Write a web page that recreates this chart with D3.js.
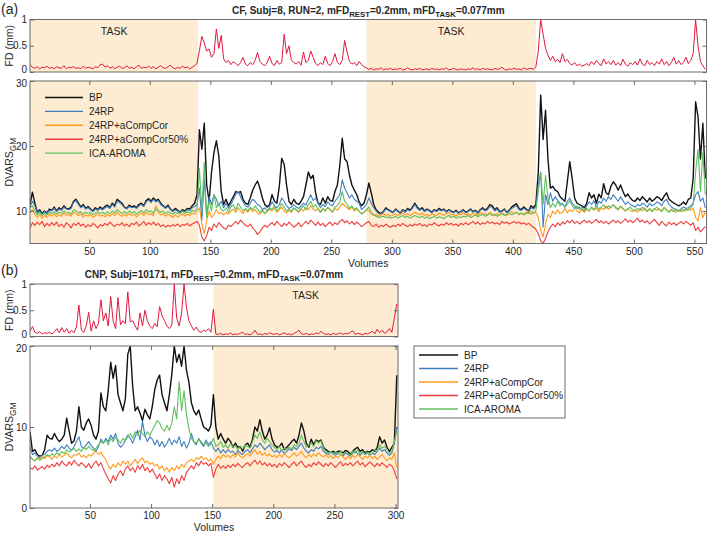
<!DOCTYPE html>
<html><head><meta charset="utf-8">
<script src="https://cdn.jsdelivr.net/npm/d3@7"></script>
<style>body{margin:0;background:#fff}</style>
</head><body><svg id="c" width="709" height="534"></svg>
<script>
// ---------------- DATA ----------------
const volsA = d3.range(1, 560, 2);   // sampled volumes, panel (a)
const volsB = d3.range(1, 302, 2);   // sampled volumes, panel (b)
const xTicksA = [50,100,150,200,250,300,350,400,450,500,550];
const xTicksB = [50,100,150,200,250,300];
const fdTicks = [0, 0.5, 1];
const dvTicksA = [10, 20, 30];
const dvTicksB = [0, 10, 20];
const tasksA = [[1,140],[279,419]];
const tasksB = [[151,302]];
const seriesNames = ["BP","24RP","24RP+aCompCor","24RP+aCompCor50%","ICA-AROMA"];
const titleA = [["CF, Subj=8, RUN=2, mFD",0],["REST",1],["=0.2mm, mFD",0],["TASK",1],["=0.077mm",0]];
const titleB = [["CNP, Subj=10171, mFD",0],["REST",1],["=0.2mm, mFD",0],["TASK",1],["=0.07mm",0]];

const fdA = [
0.14,0.09,0.07,0.10,0.06,0.09,0.08,0.11,0.07,0.09,
0.06,0.10,0.08,0.07,0.12,0.06,0.09,0.08,0.10,0.07,
0.08,0.06,0.11,0.07,0.09,0.08,0.06,0.10,0.08,0.14,
0.15,0.09,0.12,0.07,0.10,0.06,0.09,0.11,0.07,0.08,
0.12,0.07,0.09,0.06,0.10,0.13,0.07,0.09,0.08,0.11,
0.07,0.10,0.06,0.09,0.12,0.08,0.07,0.10,0.13,0.08,
0.06,0.09,0.07,0.11,0.08,0.10,0.06,0.09,0.12,0.16,
0.41,0.68,0.55,0.40,0.44,0.28,0.35,0.82,0.45,0.70,
0.25,0.18,0.22,0.14,0.20,0.16,0.12,0.18,0.28,0.15,
0.12,0.18,0.14,0.22,0.37,0.20,0.15,0.12,0.18,0.30,
0.16,0.12,0.22,0.15,0.18,0.72,0.35,0.50,0.22,0.18,
0.15,0.20,0.13,0.38,0.18,0.22,0.40,0.28,0.16,0.12,
0.18,0.14,0.30,0.16,0.12,0.20,0.35,0.18,0.14,0.22,
0.60,0.38,0.20,0.15,0.18,0.12,0.20,0.14,0.10,0.08,
0.05,0.07,0.04,0.06,0.05,0.08,0.04,0.06,0.05,0.07,
0.04,0.06,0.05,0.07,0.04,0.05,0.08,0.05,0.04,0.06,
0.05,0.07,0.04,0.05,0.06,0.04,0.07,0.05,0.06,0.04,
0.06,0.05,0.08,0.04,0.05,0.07,0.05,0.04,0.06,0.05,
0.04,0.06,0.05,0.08,0.05,0.06,0.04,0.07,0.05,0.06,
0.05,0.04,0.07,0.05,0.06,0.09,0.05,0.04,0.06,0.05,
0.07,0.05,0.06,0.04,0.08,0.05,0.06,0.07,0.05,0.10,
0.40,1.00,0.72,0.45,0.32,0.22,0.30,0.20,0.24,0.18,
0.35,0.20,0.24,0.16,0.13,0.18,0.12,0.15,0.11,0.13,
0.16,0.12,0.20,0.14,0.22,0.16,0.12,0.25,0.15,0.20,
0.14,0.22,0.13,0.18,0.12,0.24,0.15,0.11,0.18,0.14,
0.20,0.13,0.25,0.15,0.12,0.22,0.14,0.18,0.12,0.20,
0.15,0.25,0.14,0.20,0.12,0.18,0.28,0.15,0.22,0.14,
0.18,0.28,0.16,0.22,0.35,1.00,0.50,0.20,0.12,0.05];

const bpA = [
11.0,12.9,11.2,9.8,10.2,9.6,10.0,9.7,10.3,10.1,
10.6,10.0,10.5,10.2,10.8,10.4,10.3,10.6,11.5,11.8,
11.2,10.6,11.0,10.4,10.7,10.3,10.0,10.5,10.2,10.6,
10.3,10.7,10.9,10.5,11.2,10.8,11.8,11.5,11.2,10.6,
10.4,10.9,10.6,10.8,10.5,11.0,11.2,10.8,11.6,11.9,
11.5,12.0,11.6,11.8,11.2,10.8,10.5,10.9,10.3,10.0,
10.4,10.1,9.8,10.2,10.0,10.4,10.3,10.8,11.2,12.5,
22.5,19.5,23.5,14.0,11.5,16.0,19.0,20.8,18.5,13.0,
11.0,11.8,10.8,11.5,12.2,13.0,12.8,13.0,11.8,11.2,
11.0,12.0,13.2,14.0,14.6,13.5,12.0,11.0,10.6,11.0,
12.5,11.5,11.2,13.8,18.1,17.2,14.0,11.5,11.0,11.8,
11.2,11.0,11.5,12.2,14.0,16.0,15.0,15.5,12.8,11.2,
11.0,12.0,11.2,12.2,11.6,11.5,13.0,14.0,17.0,21.2,
18.0,17.6,15.5,14.0,13.2,12.5,11.4,10.8,11.2,12.5,
14.3,12.8,11.0,10.2,9.8,9.6,9.9,10.5,10.2,10.0,
9.8,10.3,10.0,9.7,10.2,9.9,10.4,10.1,10.6,11.2,
10.6,10.2,10.5,10.0,10.3,10.1,9.8,10.2,10.0,10.4,
10.1,10.3,9.9,10.2,10.0,9.8,10.1,9.7,9.9,10.2,
9.8,10.0,10.3,9.9,10.1,9.7,10.2,10.5,10.1,10.4,
11.0,10.8,10.2,10.5,9.9,10.0,10.3,9.8,10.1,10.6,
10.9,11.1,10.4,10.2,10.6,10.3,10.0,10.8,10.5,11.0,
16.0,27.8,21.0,25.5,18.0,13.5,13.8,13.2,13.0,12.2,
11.8,11.5,14.5,17.6,15.0,12.0,11.2,11.0,10.8,10.5,
11.2,12.8,12.0,12.5,11.2,12.6,12.0,14.2,12.8,12.5,
13.8,14.5,14.0,13.2,14.0,13.0,12.2,12.6,12.0,11.6,
11.5,12.0,11.6,12.2,11.8,11.4,12.0,11.5,11.8,12.2,
12.0,11.6,12.3,12.8,11.8,11.5,11.2,11.0,10.8,11.0,
11.4,11.0,11.8,12.0,15.0,26.8,24.5,18.0,23.5,15.0];

const rpA = [
10.6,11.5,10.8,9.7,10.0,9.5,9.9,9.6,10.1,10.0,
10.4,9.9,10.3,10.1,10.6,10.3,10.2,10.4,11.3,11.6,
11.0,10.5,10.8,10.3,10.5,10.2,9.9,10.3,10.1,10.4,
10.2,10.5,10.7,10.4,11.0,10.6,11.5,11.3,11.0,10.5,
10.3,10.7,10.5,10.6,10.4,10.8,11.0,10.7,11.4,11.7,
11.3,11.8,11.4,11.6,11.0,10.7,10.4,10.7,10.2,9.9,
10.2,10.0,9.7,10.0,9.9,10.2,10.1,10.5,10.7,11.0,
13.5,8.5,15.0,9.0,12.2,11.0,12.5,11.8,10.8,11.5,
10.5,11.2,10.4,11.0,11.8,12.5,13.0,12.2,11.4,10.8,
10.6,11.2,11.8,11.5,11.0,10.8,10.2,10.5,10.0,10.6,
11.4,10.8,10.5,11.0,12.0,11.5,10.8,10.4,10.6,11.0,
10.6,10.4,10.8,11.2,10.9,11.8,12.5,11.6,12.0,11.2,
10.5,11.0,10.7,11.4,11.0,10.8,11.5,12.0,12.5,14.8,
13.5,12.8,12.0,12.5,11.8,11.5,11.2,10.2,10.6,11.0,
12.0,11.2,10.5,10.0,9.6,9.5,9.8,10.3,10.1,9.9,
9.7,10.2,9.9,9.6,10.1,9.8,10.2,10.0,10.4,11.0,
10.4,10.1,10.3,9.9,10.2,10.0,9.7,10.1,9.9,10.2,
10.0,10.2,9.8,10.1,9.9,9.7,10.0,9.6,9.8,10.1,
9.7,9.9,10.2,9.8,10.0,9.6,10.1,10.3,10.0,10.2,
10.7,10.5,10.0,10.3,9.8,9.9,10.2,9.7,10.0,10.4,
10.6,10.8,10.2,10.1,10.4,10.2,9.9,10.5,10.3,10.6,
14.0,16.0,7.5,12.5,11.0,12.8,11.5,12.2,11.6,11.2,
11.0,10.6,11.5,12.0,11.2,10.8,10.4,10.6,10.2,10.0,
10.8,11.4,11.0,11.6,10.6,11.5,11.2,12.0,11.5,12.2,
11.8,12.5,12.0,11.5,12.2,11.6,11.0,11.4,11.0,10.8,
10.6,11.0,10.8,11.2,11.0,10.6,11.2,10.8,11.0,11.4,
11.2,10.8,11.5,11.8,11.0,10.6,10.4,10.2,10.0,10.3,
10.6,10.4,10.5,10.8,11.2,12.5,13.0,11.5,12.0,10.5];

const ccA = [
9.8,10.2,9.5,9.0,9.4,8.9,9.3,9.0,9.5,9.2,
9.6,9.1,9.4,9.2,9.7,9.3,9.5,9.2,9.8,9.6,
9.3,9.6,9.1,9.4,9.2,9.5,9.0,9.3,9.6,9.2,
9.4,9.1,9.5,9.2,9.6,9.3,9.8,9.4,9.2,9.5,
9.2,9.6,9.3,9.5,9.1,9.4,9.7,9.3,9.8,9.5,
9.6,9.3,10.8,9.8,9.4,9.6,9.2,9.5,9.3,9.0,
9.4,9.1,9.3,9.6,9.2,9.5,9.3,9.7,9.5,9.9,
10.5,8.0,6.5,8.5,10.0,9.0,9.5,10.2,9.6,9.8,
9.4,9.8,9.5,10.0,10.3,9.8,10.5,10.0,9.6,10.2,
9.8,10.4,9.9,10.2,9.7,9.5,10.0,9.6,9.9,10.3,
10.0,10.5,9.8,10.2,10.6,10.0,9.7,10.1,9.8,10.4,
10.1,9.8,10.3,10.0,10.5,10.2,10.8,10.3,10.0,10.4,
9.9,10.3,10.0,10.5,10.2,9.8,10.4,10.1,10.6,11.2,
10.8,10.5,10.2,10.6,10.0,10.3,9.9,9.6,9.8,10.2,
10.0,9.6,9.3,9.5,9.2,9.4,9.6,9.3,9.5,9.2,
9.4,9.6,9.3,9.5,9.7,9.4,9.6,9.3,9.5,9.8,
9.6,9.4,9.7,9.3,9.5,9.2,9.6,9.4,9.3,9.7,
9.5,9.3,9.6,9.8,9.4,9.5,9.2,9.6,9.4,9.7,
9.4,9.6,9.3,9.7,9.5,9.3,9.8,9.5,9.6,9.4,
9.8,9.5,9.3,9.6,9.4,9.7,9.5,9.3,9.6,9.9,
9.6,9.8,9.4,9.7,9.5,9.8,9.6,10.0,9.7,9.8,
9.0,7.0,6.0,8.0,9.5,9.0,10.0,9.5,10.2,9.6,
9.8,10.4,9.7,10.2,9.9,10.5,10.0,9.7,10.2,9.8,
10.3,10.0,10.6,10.1,10.4,9.9,10.5,10.2,10.8,10.3,
10.6,11.0,10.4,10.2,10.7,10.3,10.0,10.4,10.1,9.9,
10.2,9.8,10.4,10.0,10.5,9.9,10.3,10.0,10.4,10.1,
10.3,10.0,10.6,10.2,9.9,10.3,10.0,9.8,10.1,9.9,
10.2,10.0,10.4,10.1,10.5,9.0,8.5,10.5,9.0,9.8];

const cc50A = [
7.4,8.2,7.8,8.3,7.9,8.4,7.6,8.1,7.7,8.2,
7.8,8.3,7.6,8.0,7.5,8.2,7.9,7.4,8.1,7.8,
8.2,7.7,8.0,7.5,7.9,7.6,8.1,7.8,7.4,7.9,
7.7,8.1,7.8,8.3,7.9,7.6,8.0,7.8,8.2,7.7,
8.0,7.6,8.1,7.9,8.3,7.7,8.0,8.4,7.8,8.2,
7.9,8.3,7.8,8.1,7.6,7.9,7.5,7.8,7.6,7.9,
7.7,8.0,7.6,7.9,7.8,8.1,7.7,8.0,8.2,8.4,
7.8,6.0,5.4,6.2,7.5,7.0,8.0,7.5,8.2,7.8,
7.4,7.2,7.8,7.6,8.0,8.4,8.0,8.6,8.2,7.8,
7.6,8.0,7.4,7.0,6.4,6.8,7.4,7.8,7.5,7.9,
8.2,7.8,8.4,8.0,7.6,8.1,7.8,8.3,7.9,7.5,
7.8,8.2,7.6,8.0,8.4,8.0,8.6,8.2,7.8,8.3,
7.8,8.1,7.6,8.0,8.3,7.8,8.2,7.9,8.4,8.7,
8.2,8.5,8.0,8.4,7.9,8.3,8.0,7.6,7.9,8.2,
8.4,7.8,7.6,8.0,7.5,7.8,7.6,8.0,7.7,7.5,
7.8,7.6,8.0,7.7,8.1,7.8,7.6,7.9,7.7,8.0,
7.8,8.1,7.7,7.9,7.6,8.0,7.8,8.2,7.9,7.7,
8.0,7.8,8.2,7.9,8.1,7.8,8.0,7.7,8.1,7.9,
8.2,7.9,8.1,8.4,8.0,8.3,7.9,8.2,8.0,8.4,
8.1,8.3,8.0,8.2,7.9,8.4,8.1,8.3,8.0,8.2,
8.4,8.1,8.3,8.0,8.2,7.9,8.1,7.8,7.5,7.2,
6.5,5.4,5.0,5.8,6.8,7.5,8.0,7.6,8.2,7.8,
8.3,8.0,8.5,8.2,8.6,8.1,8.4,8.0,8.3,8.6,
8.2,8.5,8.1,8.4,8.7,8.2,8.5,8.1,8.4,8.0,
8.3,8.6,8.2,8.5,8.1,8.4,8.8,8.3,8.6,8.2,
8.5,8.9,8.3,8.6,8.2,8.5,8.0,8.4,8.7,8.2,
7.8,8.4,8.0,7.7,8.3,7.9,8.2,7.8,8.1,8.4,
8.0,8.4,8.1,7.8,8.2,7.0,7.5,6.8,7.2,7.6];

const icaA = [
10.5,10.8,10.0,9.4,9.8,9.3,9.6,9.4,9.8,9.6,
9.9,9.5,9.8,9.6,10.0,9.7,9.8,9.5,10.2,10.0,
9.7,9.9,9.5,9.8,9.6,9.8,9.4,9.7,9.9,9.6,
9.8,9.5,9.9,9.6,10.0,9.7,10.2,9.9,9.6,9.9,
9.6,10.0,9.7,9.9,9.5,9.8,10.1,9.7,10.2,9.9,
10.0,9.7,10.3,10.1,9.8,10.0,9.6,9.9,9.7,9.5,
9.8,9.6,9.7,10.0,9.6,9.9,9.7,10.1,9.9,10.4,
16.5,10.0,17.5,9.0,11.5,10.0,12.5,10.5,11.2,10.2,
10.0,10.5,9.8,10.6,11.0,10.2,11.2,10.6,10.0,10.4,
10.0,10.6,10.2,10.8,10.3,9.8,10.2,9.6,10.0,10.5,
10.2,10.8,10.0,10.4,11.2,10.6,10.0,10.3,9.9,10.5,
10.2,9.9,10.4,10.8,10.2,11.0,11.5,10.6,11.0,10.3,
9.8,10.4,10.0,10.6,10.2,9.9,10.6,10.8,11.4,13.0,
11.5,11.0,10.4,10.8,10.2,10.5,10.0,9.5,9.8,10.2,
10.6,9.8,9.4,9.2,9.0,9.1,9.2,9.0,9.1,8.9,
9.0,9.2,8.9,9.1,9.3,9.0,9.2,8.9,9.1,9.3,
9.1,9.0,9.2,8.9,9.1,8.8,9.0,9.2,8.9,9.1,
9.0,8.8,9.1,9.3,9.0,9.2,8.9,9.1,9.0,9.2,
9.1,9.3,9.0,9.2,9.4,9.1,9.3,9.5,9.2,9.4,
9.6,9.3,9.5,9.2,9.4,9.6,9.3,9.5,9.7,9.4,
9.6,9.8,9.5,9.7,9.4,9.6,9.8,9.5,9.7,10.0,
13.0,15.8,11.0,15.5,12.0,10.5,11.2,10.6,11.5,10.8,
11.2,10.6,11.0,11.6,10.8,10.4,10.8,10.2,10.6,10.0,
10.4,10.0,10.6,10.2,10.8,10.3,10.6,11.0,10.4,10.8,
10.5,11.0,10.6,10.2,10.8,10.4,10.0,10.3,10.6,10.2,
10.0,10.4,10.1,10.6,10.2,10.0,10.4,9.9,10.3,10.6,
10.2,9.9,10.5,10.1,9.8,10.2,9.9,10.3,10.0,10.2,
10.0,10.3,10.1,10.5,11.0,16.0,19.5,13.0,19.0,12.5];

const fdB = [
0.10,0.19,0.08,0.06,0.09,0.05,0.07,0.06,0.08,0.05,
0.09,0.15,0.07,0.17,0.08,0.15,0.06,0.12,0.07,0.18,
0.60,0.12,0.08,0.20,0.46,0.10,0.30,0.15,0.25,0.70,
0.30,0.45,0.20,0.76,0.30,0.15,0.74,0.22,0.30,0.25,
0.85,0.28,0.30,0.20,0.12,0.45,0.20,0.50,0.30,0.20,
0.15,0.25,0.18,0.57,0.40,0.30,0.20,0.15,0.22,1.00,
0.35,0.20,0.45,1.00,0.55,0.30,0.20,0.12,0.18,0.10,
0.08,0.12,0.10,0.15,0.08,0.52,0.05,0.04,0.06,0.03,
0.05,0.04,0.07,0.03,0.05,0.04,0.06,0.08,0.04,0.05,
0.03,0.06,0.12,0.04,0.05,0.03,0.06,0.04,0.07,0.05,
0.04,0.06,0.03,0.05,0.07,0.04,0.05,0.03,0.06,0.08,
0.12,0.05,0.04,0.06,0.03,0.05,0.04,0.07,0.05,0.10,
0.06,0.04,0.05,0.03,0.06,0.04,0.05,0.07,0.04,0.06,
0.05,0.08,0.11,0.04,0.06,0.05,0.03,0.06,0.05,0.07,
0.10,0.05,0.14,0.07,0.12,0.06,0.09,0.15,0.08,0.35,
0.62];

const bpB = [
9.4,7.0,7.2,6.6,6.4,6.5,7.2,9.0,8.6,8.5,
9.2,8.6,8.2,8.5,9.0,11.1,9.5,8.0,8.3,9.5,
12.5,10.0,9.6,10.5,11.0,10.2,9.0,8.5,9.5,14.2,
12.5,12.0,14.5,18.0,16.0,17.6,14.0,13.0,12.0,13.5,
19.0,20.0,15.0,12.0,12.5,11.7,10.8,12.2,11.5,11.0,
12.5,14.6,15.8,16.4,14.0,13.0,12.0,14.0,16.5,20.0,
18.0,19.0,17.5,20.0,17.0,15.5,13.0,12.0,11.5,12.1,
11.0,10.0,9.8,9.5,10.2,14.0,10.0,8.5,9.2,8.5,
8.0,8.6,8.2,7.5,8.0,7.5,7.6,7.0,7.8,8.0,
7.5,8.5,10.0,9.5,10.9,9.5,8.5,9.0,9.9,8.5,
7.8,7.5,7.6,8.0,7.2,7.5,7.8,8.2,8.5,8.0,
9.0,10.5,9.5,8.0,7.5,8.5,7.8,8.4,8.2,8.4,
7.5,7.2,7.0,6.9,7.0,6.8,7.0,7.0,6.8,7.1,
7.0,6.6,7.0,7.3,7.5,7.0,7.2,6.8,7.0,6.9,
7.2,7.0,7.5,8.8,8.0,8.4,7.5,7.0,7.5,8.0,
16.4];

const rpB = [
7.5,6.6,6.8,6.4,6.2,6.5,6.6,7.0,7.2,7.0,
7.4,7.0,7.2,7.6,7.3,7.8,7.4,7.1,7.6,8.2,
8.8,7.6,7.4,7.8,8.2,7.7,7.4,7.0,7.6,8.5,
8.0,8.6,8.2,9.0,8.5,9.2,8.0,7.5,7.8,8.4,
9.0,8.6,8.0,8.8,9.6,8.4,10.7,9.0,8.2,8.8,
8.5,7.8,8.4,7.6,8.2,7.5,8.0,8.6,7.8,8.4,
8.0,8.8,7.6,8.2,7.4,8.0,9.2,8.2,7.8,8.6,
8.0,7.6,8.4,7.8,8.2,7.4,7.0,7.4,6.8,7.2,
6.8,7.2,6.9,7.0,6.6,7.1,6.8,6.6,7.0,7.2,
6.8,7.3,7.8,7.5,8.0,7.6,7.2,7.5,7.8,7.2,
6.9,7.1,6.8,7.2,6.7,7.0,7.3,7.1,7.5,7.2,
7.6,8.0,7.4,7.0,6.8,7.2,7.0,7.5,7.3,7.6,
7.0,6.8,6.6,6.9,6.7,6.5,6.8,6.6,6.4,6.8,
6.6,6.4,6.8,7.0,6.7,6.5,6.9,6.6,6.8,6.5,
6.8,6.6,7.0,7.4,7.0,7.2,6.8,6.5,6.8,8.0,
10.0];

const ccB = [
6.3,6.0,5.8,6.2,6.0,6.4,6.1,6.5,6.3,6.0,
6.4,6.2,6.6,6.3,6.5,6.8,6.4,6.2,6.6,6.5,
6.8,6.3,6.5,6.2,6.6,6.4,6.8,7.0,6.6,6.9,
6.4,6.0,5.2,4.8,5.4,5.0,5.6,5.2,5.8,5.4,
5.8,5.2,5.6,6.0,5.5,5.9,6.2,5.6,5.8,5.4,
5.6,5.2,5.4,4.8,5.2,4.6,5.0,4.4,5.0,4.6,
5.2,4.8,5.4,5.0,5.6,5.8,6.0,5.7,6.2,6.0,
6.4,6.0,6.2,5.8,6.1,5.4,6.0,6.4,6.1,6.6,
6.3,6.5,6.2,6.6,6.3,6.8,6.4,6.2,6.5,6.7,
6.4,6.8,7.2,6.6,7.0,6.5,6.8,6.4,6.7,6.3,
6.5,6.2,6.6,6.3,6.7,6.4,6.2,6.5,6.8,6.4,
6.6,7.0,6.5,6.2,6.6,6.3,6.7,6.4,6.8,6.5,
6.3,6.6,6.2,6.5,6.1,6.4,6.2,6.6,6.3,6.0,
6.4,6.1,6.5,6.2,6.6,6.3,6.0,6.4,6.2,6.5,
6.1,6.4,6.0,6.3,6.6,6.2,5.8,6.2,6.0,6.8,
5.0];

const cc50B = [
5.0,4.8,5.2,4.7,4.9,5.1,4.8,5.3,5.0,5.4,
5.1,5.6,5.2,5.8,5.4,5.2,5.7,5.3,5.9,5.5,
5.2,5.6,5.3,5.0,5.5,4.9,5.4,5.8,5.2,5.6,
4.8,4.2,3.6,3.1,4.0,3.4,4.2,4.6,4.0,4.8,
5.2,4.6,5.0,4.4,5.2,4.8,5.4,4.6,5.0,4.4,
4.8,4.2,3.6,4.2,3.4,4.0,3.6,3.0,3.8,2.6,
3.6,3.0,4.0,3.4,4.4,4.8,5.2,4.8,5.6,5.2,
5.8,5.4,5.6,5.2,5.5,3.8,4.8,5.4,4.9,5.2,
4.9,5.3,5.0,5.4,5.1,5.5,5.2,5.0,5.4,5.6,
5.2,5.6,5.9,5.4,5.8,5.3,5.6,5.2,5.5,5.1,
5.4,5.0,5.5,5.2,5.6,5.3,5.0,5.4,5.7,5.2,
5.5,5.8,5.3,5.0,5.4,5.1,5.6,5.3,5.7,5.4,
5.1,5.5,5.2,5.6,5.3,5.0,5.4,5.7,5.2,5.5,
5.3,5.6,5.2,5.5,5.8,5.3,5.6,5.1,5.4,5.7,
5.4,5.1,5.5,5.2,5.6,5.3,5.0,5.4,5.2,4.6,
3.6];

const icaB = [
6.4,6.0,5.8,6.2,5.9,6.1,6.3,6.6,6.4,6.7,
6.5,6.8,6.6,7.0,6.7,7.2,6.9,7.1,7.4,7.0,
7.3,7.0,7.5,7.2,7.6,7.3,7.1,7.4,7.8,8.2,
8.0,8.4,7.8,8.6,8.2,8.8,8.4,8.0,8.6,8.3,
8.8,9.2,8.6,9.4,9.0,9.6,9.2,8.8,9.4,9.0,
9.6,10.2,10.8,10.5,9.8,9.5,10.2,9.6,10.5,12.5,
11.0,15.6,12.0,14.5,11.5,9.8,8.6,8.2,8.0,8.5,
8.2,7.8,8.0,7.6,7.9,8.6,7.6,7.8,8.2,7.5,
7.8,7.4,8.0,7.5,7.7,7.2,7.6,7.3,7.8,7.6,
7.4,8.2,9.0,8.6,9.4,8.4,8.0,8.6,8.2,7.8,
7.5,7.2,7.6,7.0,7.4,7.2,7.5,7.3,7.8,7.6,
8.0,9.0,8.2,7.5,7.8,8.0,7.6,8.3,8.0,8.3,
7.4,7.0,6.8,7.0,6.6,6.9,6.7,7.0,6.6,6.9,
6.7,6.5,7.0,6.8,7.2,6.6,7.0,6.7,6.9,6.6,
6.8,7.2,7.0,7.8,7.4,7.6,7.2,6.8,7.0,8.2,
9.5];

// ---------------- STYLE ----------------
const COLORS = ["#111111","#3f7fc0","#ff9a1a","#f03c3c","#5fbf5f"];
const WIDTHS = [1.4,1.1,1.1,1.1,1.1];
const FD_COLOR = "#e0183f";
const TASK_FILL = "#fdecd2";
const AXIS_COLOR = "#6b6b6b";
const TEXT_COLOR = "#262626";
const FONT = "'Liberation Sans', Arial, Helvetica, sans-serif";

const svg = d3.select("#c").attr("font-family", FONT);

function rich(g, x, y, parts, attrs) {
  const t = g.append("text").attr("x", x).attr("y", y).attr("fill", TEXT_COLOR);
  Object.entries(attrs || {}).forEach(([k, v]) => t.attr(k, v));
  let shifted = false;
  parts.forEach(([s, sub]) => {
    const ts = t.append("tspan").text(s);
    if (sub && !shifted) { ts.attr("dy", 3).attr("font-size", "0.78em"); shifted = true; }
    else if (!sub && shifted) { ts.attr("dy", -3); shifted = false; }
  });
  return t;
}

let clipId = 0;
function panel(o) {
  const x = d3.scaleLinear().domain(o.xDomain).range([o.left, o.right]);
  const yF = d3.scaleLinear().domain([0, 1]).range([o.fdBottom, o.fdTop]);
  const yD = d3.scaleLinear().domain(o.dvDomain).range([o.dvBottom, o.dvTop]);
  const w = o.right - o.left;

  const panes = [[o.fdTop, o.fdBottom], [o.dvTop, o.dvBottom]];
  const clips = panes.map(([t, b]) => {
    const id = "clip" + (clipId++);
    svg.append("clipPath").attr("id", id).append("rect")
      .attr("x", o.left).attr("y", t).attr("width", w).attr("height", b - t);
    return id;
  });

  panes.forEach(([t, b]) => {
    o.tasks.forEach(([a, e]) => {
      svg.append("rect").attr("x", x(a)).attr("y", t)
        .attr("width", x(e) - x(a)).attr("height", b - t).attr("fill", TASK_FILL);
    });
  });
  o.tasks.forEach(([a, e]) => {
    svg.append("text").attr("x", (x(a) + x(e)) / 2).attr("y", o.fdTop + 15)
      .attr("text-anchor", "middle").attr("font-size", 10.5).attr("fill", TEXT_COLOR).text("TASK");
  });

  // FD line
  const lineF = d3.line().x((d, i) => x(o.vols[i])).y(d => yF(d));
  svg.append("path").attr("d", lineF(o.fd)).attr("fill", "none")
    .attr("stroke", FD_COLOR).attr("stroke-width", 1).attr("clip-path", `url(#${clips[0]})`);

  // DVARS lines
  const lineD = d3.line().x((d, i) => x(o.vols[i])).y(d => yD(d));
  o.series.forEach((s, k) => {
    svg.append("path").attr("d", lineD(s)).attr("fill", "none")
      .attr("stroke", COLORS[k]).attr("stroke-width", WIDTHS[k])
      .attr("stroke-linejoin", "round").attr("clip-path", `url(#${clips[1]})`);
  });

  const styleAxis = g => {
    g.select(".domain").remove();
    g.selectAll(".tick line").attr("stroke", AXIS_COLOR);
    g.selectAll(".tick text").attr("fill", TEXT_COLOR).attr("font-size", 10).attr("font-family", FONT);
  };

  // FD axes (lowest label nudged up slightly so it does not collide with the DVARS top label)
  svg.append("g").attr("transform", `translate(${o.left},0)`)
    .call(d3.axisLeft(yF).tickValues(fdTicks).tickFormat(d3.format("")).tickSize(-4).tickPadding(3)).call(styleAxis)
    .call(g => g.selectAll(".tick text").filter(d => d === 0).attr("dy", "0.05em"));
  svg.append("g").attr("transform", `translate(${o.right},0)`)
    .call(d3.axisRight(yF).tickValues(fdTicks).tickFormat("").tickSize(-4)).call(styleAxis);

  // DVARS axes
  svg.append("g").attr("transform", `translate(${o.left},0)`)
    .call(d3.axisLeft(yD).tickValues(o.dvTicks).tickSize(-4).tickPadding(3)).call(styleAxis)
    .call(g => g.selectAll(".tick text").filter(d => d === o.dvDomain[1]).attr("dy", "0.55em"));
  svg.append("g").attr("transform", `translate(${o.right},0)`)
    .call(d3.axisRight(yD).tickValues(o.dvTicks).tickFormat("").tickSize(-4)).call(styleAxis);
  svg.append("g").attr("transform", `translate(0,${o.dvBottom})`)
    .call(d3.axisBottom(x).tickValues(o.xTicks).tickSize(-4).tickPadding(4)).call(styleAxis);
  svg.append("g").attr("transform", `translate(0,${o.dvTop})`)
    .call(d3.axisTop(x).tickValues(o.xTicks).tickFormat("").tickSize(-4)).call(styleAxis);

  panes.forEach(([t, b]) => {
    svg.append("rect").attr("x", o.left).attr("y", t).attr("width", w).attr("height", b - t)
      .attr("fill", "none").attr("stroke", AXIS_COLOR).attr("stroke-width", 1);
  });

  svg.append("text").attr("transform", `translate(13,${(o.fdTop + o.fdBottom) / 2}) rotate(-90)`)
    .attr("text-anchor", "middle").attr("font-size", 10.5).attr("fill", TEXT_COLOR).text("FD (mm)");
  rich(svg, 0, 0, [["DVARS", 0], ["GM", 1]],
    { transform: `translate(13,${(o.dvTop + o.dvBottom) / 2}) rotate(-90)`, "text-anchor": "middle", "font-size": 10.5 });
  svg.append("text").attr("x", (o.left + o.right) / 2).attr("y", o.dvBottom + 23)
    .attr("text-anchor", "middle").attr("font-size", 10.5).attr("fill", TEXT_COLOR).text("Volumes");

  rich(svg, (o.left + o.right) / 2, o.titleY, o.title,
    { "text-anchor": "middle", "font-size": 10, "font-weight": "bold" });
  svg.append("text").attr("x", 1).attr("y", o.letterY).attr("font-size", 14)
    .attr("fill", TEXT_COLOR).text(o.letter);

  const lg = o.legend;
  if (lg.box) {
    svg.append("rect").attr("x", lg.box[0]).attr("y", lg.box[1]).attr("width", lg.box[2]).attr("height", lg.box[3])
      .attr("fill", "#fff").attr("stroke", AXIS_COLOR).attr("stroke-width", 1);
  }
  seriesNames.forEach((n, k) => {
    const yy = lg.y0 + k * lg.dy;
    svg.append("line").attr("x1", lg.x0).attr("x2", lg.x1).attr("y1", yy).attr("y2", yy)
      .attr("stroke", COLORS[k]).attr("stroke-width", WIDTHS[k] + 0.3);
    svg.append("text").attr("x", lg.x1 + 6).attr("y", yy + 3.5).attr("font-size", 10)
      .attr("fill", TEXT_COLOR).text(n);
  });
}

panel({
  vols: volsA, fd: fdA, series: [bpA, rpA, ccA, cc50A, icaA],
  xDomain: [1, 560], left: 30, right: 706.5,
  fdTop: 19.5, fdBottom: 72, dvTop: 81, dvBottom: 243.5, dvDomain: [5, 30],
  dvTicks: dvTicksA, xTicks: xTicksA, tasks: tasksA,
  title: titleA, titleY: 14, letter: "(a)", letterY: 14,
  legend: { x0: 45, x1: 83, y0: 97.5, dy: 13.9 }
});
panel({
  vols: volsB, fd: fdB, series: [bpB, rpB, ccB, cc50B, icaB],
  xDomain: [1, 302], left: 30, right: 398,
  fdTop: 284, fdBottom: 336.5, dvTop: 346, dvBottom: 508, dvDomain: [0, 20],
  dvTicks: dvTicksB, xTicks: xTicksB, tasks: tasksB,
  title: titleB, titleY: 278, letter: "(b)", letterY: 275,
  legend: { x0: 419, x1: 458, y0: 355, dy: 13.5, box: [414, 346, 151, 72] }
});
</script></body></html>
